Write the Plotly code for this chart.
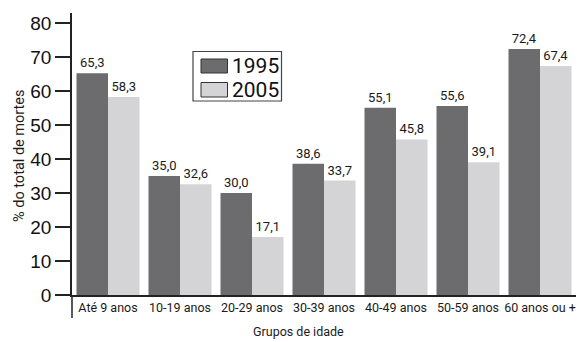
import plotly.graph_objects as go

categories = ["Até 9 anos", "10-19 anos", "20-29 anos", "30-39 anos", "40-49 anos", "50-59 anos", "60 anos ou +"]
values_1995 = [65.3, 35.0, 30.0, 38.6, 55.1, 55.6, 72.4]
values_2005 = [58.3, 32.6, 17.1, 33.7, 45.8, 39.1, 67.4]
y_ticks = [0, 10, 20, 30, 40, 50, 60, 70, 80]

DARK = "#6c6c6e"
LIGHT = "#d4d4d6"
NARROW = "Roboto, Liberation Sans Narrow, sans-serif"
REG = "Liberation Sans, Arial, sans-serif"

def fmt(v):
    return f"{v:.1f}".replace(".", ",")

fig = go.Figure()
fig.add_trace(go.Bar(x=categories, y=values_1995, name="1995", marker=dict(color=DARK, line=dict(width=0)),
                     text=[fmt(v) for v in values_1995], textposition="outside",
                     textfont=dict(family=NARROW, size=13, color="#1a1a1a"), cliponaxis=False))
fig.add_trace(go.Bar(x=categories, y=values_2005, name="2005", marker=dict(color=LIGHT, line=dict(width=0)),
                     text=[fmt(v) for v in values_2005], textposition="outside",
                     textfont=dict(family=NARROW, size=13, color="#1a1a1a"), cliponaxis=False))

W, H = 581, 342
L, R, T, B = 72, 5, 13, 47
PW = W - L - R
PH = H - T - B

def px(x):
    return (x - L) / PW

def py(y):
    return (H - B - y) / PH

shapes = [
    # y-axis extension below zero line
    dict(type="line", xref="paper", yref="paper", x0=0, x1=0, y0=0, y1=py(318),
         line=dict(color="#222", width=1.5)),
    # legend box
    dict(type="rect", xref="paper", yref="paper", x0=px(193), x1=px(281.5), y0=py(101), y1=py(51.5),
         line=dict(color="#444", width=1.2), fillcolor="white"),
    dict(type="rect", xref="paper", yref="paper", x0=px(201), x1=px(227.5), y0=py(73), y1=py(59),
         line=dict(color="#333", width=1), fillcolor=DARK),
    dict(type="rect", xref="paper", yref="paper", x0=px(201), x1=px(227.5), y0=py(97), y1=py(82.5),
         line=dict(color="#333", width=1), fillcolor=LIGHT),
]
annotations = [
    dict(text="1995", xref="paper", yref="paper", x=px(230), y=py(66), xanchor="left", yanchor="middle",
         showarrow=False, font=dict(family=NARROW, size=21, color="#111")),
    dict(text="2005", xref="paper", yref="paper", x=px(230), y=py(90), xanchor="left", yanchor="middle",
         showarrow=False, font=dict(family=NARROW, size=21, color="#111")),
    dict(text="Grupos de idade", xref="paper", yref="paper", x=px(298.5), y=py(331), xanchor="center", yanchor="middle",
         showarrow=False, font=dict(family=NARROW, size=12.5, color="#1a1a1a")),
    dict(text="% do total de mortes", xref="paper", yref="paper", x=px(19), y=py(156), xanchor="center", yanchor="middle",
         textangle=-90, showarrow=False, font=dict(family=NARROW, size=14.5, color="#1a1a1a")),
]

fig.update_layout(
    width=W, height=H,
    margin=dict(l=L, r=R, t=T, b=B, autoexpand=False),
    paper_bgcolor="white", plot_bgcolor="white",
    barmode="group", bargap=0.125, bargroupgap=0,
    showlegend=False,
    shapes=shapes, annotations=annotations,
    xaxis=dict(showline=True, linecolor="#222", linewidth=1.5, ticks="", showgrid=False, automargin=False,
               tickangle=0, tickfont=dict(family=NARROW, size=12.5, color="#1a1a1a"), range=[-0.5, 6.5]),
    yaxis=dict(range=[0, 83], tickvals=y_ticks, showline=True, linecolor="#222", linewidth=1.5, automargin=False,
               ticks="outside", ticklen=15, tickwidth=1.5, tickcolor="#222", showgrid=False, zeroline=False,
               tickfont=dict(family=REG, size=19, color="#111")),
)

fig.write_html("out.html")
